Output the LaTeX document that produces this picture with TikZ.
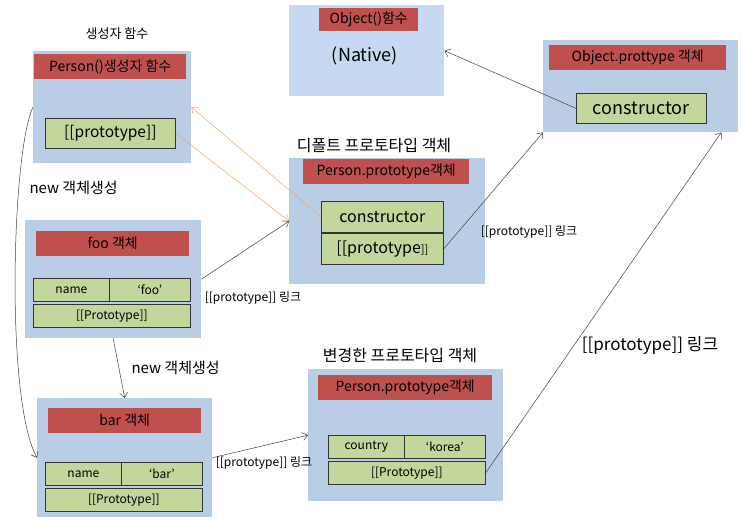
\documentclass[tikz,border=0pt]{standalone}
\usepackage{fontspec}
\setmainfont{Noto Sans CJK KR}
\usetikzlibrary{arrows.meta}
\definecolor{boxblue}{HTML}{B9CDE5}
\definecolor{boxlight}{HTML}{C6D9F1}
\definecolor{barred}{HTML}{C0504D}
\definecolor{slotgreen}{HTML}{C3D69B}
\definecolor{linkorange}{HTML}{F5A66B}
\begin{document}
\begin{tikzpicture}[
  x=1pt, y=-1pt,
  objbox/.style={rectangle, fill=boxblue, anchor=north west, inner sep=0pt},
  titlebar/.style={rectangle, fill=barred, anchor=north west, inner sep=0pt, font=\fontsize{14}{16}\selectfont},
  slot/.style={rectangle, draw=black!80, fill=slotgreen, anchor=north west, inner sep=0pt, line width=0.7pt},
  cell/.style={slot, minimum height=23pt, font=\fontsize{12}{14}\selectfont},
  caption/.style={font=\fontsize{15}{17}\selectfont},
  linklabel/.style={font=\fontsize{12}{14}\selectfont},
  link/.style={draw=black!75, line width=0.5pt, -{Straight Barb[length=5pt, width=8pt]}},
  backlink/.style={draw=linkorange, line width=0.5pt, -{Straight Barb[length=5pt, width=8pt]}}
]
  \useasboundingbox[fill=white] (0,0) rectangle (743,522);

  % Person() constructor
  \node[caption, font=\fontsize{13}{15}\selectfont] (personcap) at (117,34) {생성자 함수};
  \node[objbox, minimum width=158pt, minimum height=112pt] (person) at (33,51) {};
  \node[titlebar, minimum width=152pt, minimum height=25pt] (persontitle) at (34,54) {Person()생성자 함수};
  \node[slot, minimum width=130pt, minimum height=30pt, font=\fontsize{15.5}{17}\selectfont] (personproto) at (45,118) {[[prototype]]};

  % Object()
  \node[objbox, fill=boxlight, minimum width=155pt, minimum height=91pt] (objfn) at (289,5) {};
  \node[titlebar, minimum width=99pt, minimum height=23pt] (objfntitle) at (319,8) {Object()함수};
  \node[font=\fontsize{18}{20}\selectfont] (native) at (365,56) {(Native)};

  % Object.prototype
  \node[objbox, minimum width=195pt, minimum height=92pt] (op) at (543,40) {};
  \node[titlebar, minimum width=177pt, minimum height=25pt] (optitle) at (549,45) {Object.prottype 객체};
  \node[slot, minimum width=130pt, minimum height=30pt, font=\fontsize{18}{20}\selectfont] (opcons) at (576,93) {constructor};

  % default Person.prototype
  \node[caption, font=\fontsize{16}{18}\selectfont] (ppcap) at (374,146) {디폴트 프로토타입 객체};
  \node[objbox, minimum width=196pt, minimum height=126pt] (pp) at (289,158) {};
  \node[titlebar, minimum width=166pt, minimum height=25pt] (pptitle) at (303,159) {Person.prototype객체};
  \node[slot, minimum width=122pt, minimum height=31pt, font=\fontsize{16}{18}\selectfont] (ppcons) at (321,201) {constructor};
  \node[slot, minimum width=122pt, minimum height=31pt, font=\fontsize{16}{18}\selectfont] (ppproto) at (321,233) {[[prototype{\fontsize{11}{13}\selectfont]]}};

  % foo
  \node[caption, anchor=west] (newcap1) at (26,188) {new 객체생성};
  \node[objbox, minimum width=176pt, minimum height=118pt] (foo) at (25,220) {};
  \node[titlebar, minimum width=153pt, minimum height=25pt] (footitle) at (36,231) {foo 객체};
  \node[cell, minimum width=76pt] (fooname) at (33,278) {name};
  \node[cell, minimum width=81pt] (fooval) at (109,278) {‘foo’};
  \node[cell, minimum width=157pt] (fooproto) at (33,304) {[[Prototype]]};

  % bar
  \node[caption, anchor=west] (newcap2) at (128,368) {new 객체생성};
  \node[objbox, minimum width=175pt, minimum height=119pt] (bar) at (37,398) {};
  \node[titlebar, minimum width=153pt, minimum height=25pt] (bartitle) at (48,408) {bar 객체};
  \node[cell, minimum width=76pt] (barname) at (45,462) {name};
  \node[cell, minimum width=81pt] (barval) at (121,462) {‘bar’};
  \node[cell, minimum width=157pt] (barproto) at (45,488) {[[Prototype]]};

  % changed Person.prototype
  \node[caption, font=\fontsize{16}{18}\selectfont] (pp2cap) at (400,356) {변경한 프로토타입 객체};
  \node[objbox, minimum width=195pt, minimum height=132pt] (pp2) at (308,369) {};
  \node[titlebar, minimum width=174pt, minimum height=25pt] (pp2title) at (318,375) {Person.prototype객체};
  \node[cell, minimum width=76pt] (pp2key) at (328,435) {country};
  \node[cell, minimum width=81pt] (pp2val) at (404,435) {‘korea’};
  \node[cell, minimum width=157pt] (pp2proto) at (328,461) {[[Prototype]]};

  % link labels
  \node[linklabel] (lnk1) at (253,298) {[[prototype]] 링크};
  \node[linklabel] (lnk2) at (529,232) {[[prototype]] 링크};
  \node[linklabel] (lnk3) at (264,463) {[[prototype]] 링크};
  \node[linklabel, font=\fontsize{17}{19}\selectfont] (lnk4) at (650,345) {[[prototype]] 링크};

  \draw[backlink] (personproto.east) -- (pp.west);
  \draw[backlink] (ppcons.west) -- (person.east);
  \draw[link] (foo.east) -- (pp.west);
  \draw[link] (ppproto.east) -- (op.south west);
  \draw[link] (opcons.west) -- (objfn.east);
  \draw[link] (person.west) .. controls (12,150) and (5,400) .. (bar.west);
  \draw[link] (foo.south) -- (bar.north);
  \draw[link] (bar.east) -- (pp2.west);
  \draw[link] (pp2proto.east) -- ([xshift=-17pt]op.south east);
\end{tikzpicture}
\end{document}
